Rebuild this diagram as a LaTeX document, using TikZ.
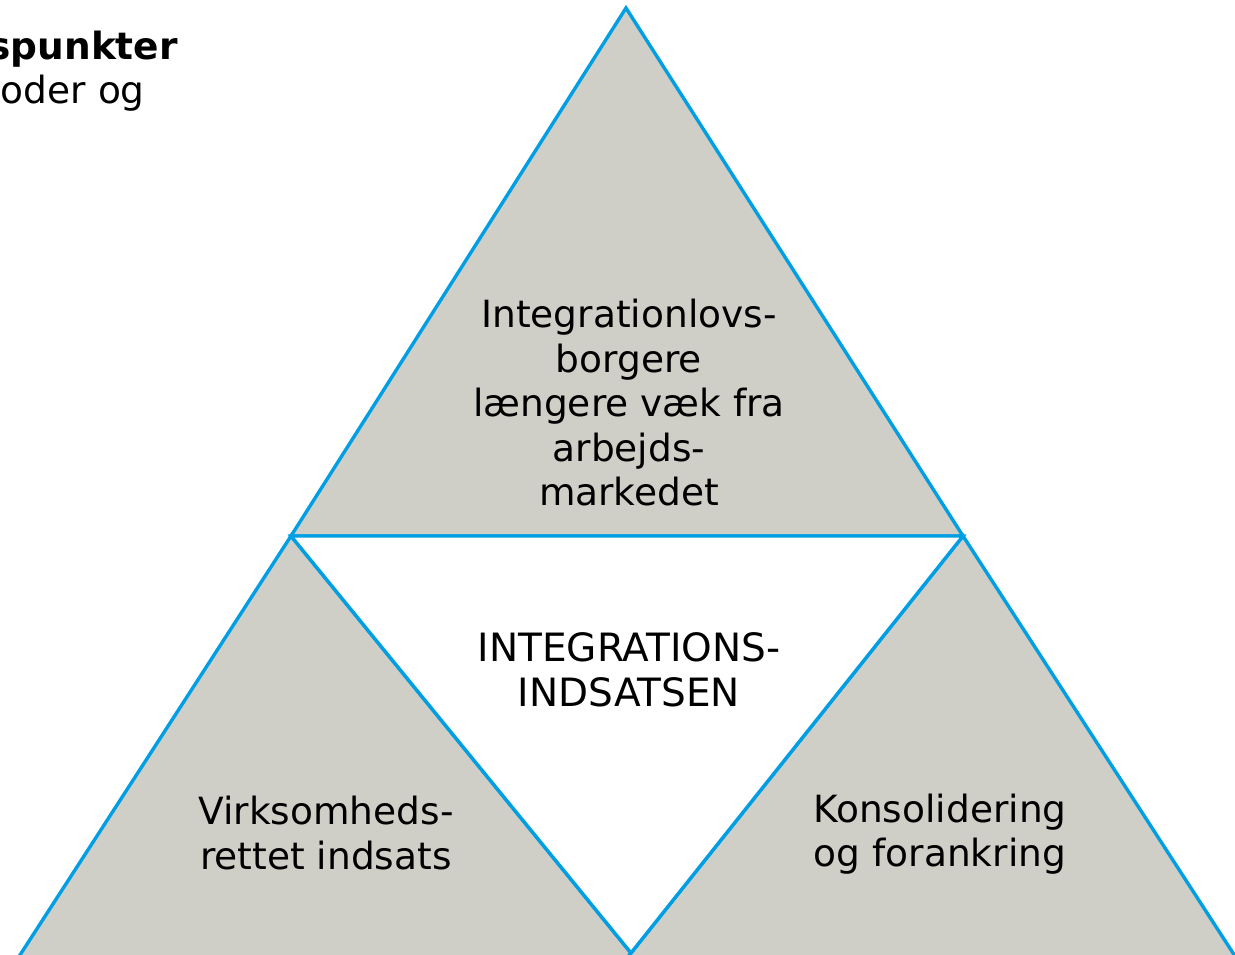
\documentclass[tikz,border=0pt]{standalone}
\usepackage{fontspec}
\setmainfont{DejaVu Sans}
\usetikzlibrary{calc}
\definecolor{edgeblue}{HTML}{009FE3}
\definecolor{panelgray}{HTML}{D0CFC7}
\begin{document}
\begin{tikzpicture}[x=1pt,y=-1pt,
  panel/.style={fill=panelgray,draw=edgeblue,line width=3.4pt,line join=miter},
  hole/.style={fill=white,draw=edgeblue,line width=3.4pt,line join=miter},
  label/.style={align=center,font=\fontsize{37.5}{44.5}\selectfont,inner sep=0pt},
  corner/.style={anchor=base east,font=\fontsize{37.5}{44.5}\selectfont,inner sep=0pt}]
\useasboundingbox (0,0) rectangle (1235,955);
\clip (0,0) rectangle (1235,955);
% corner points
\coordinate (apex) at (626,8);
\coordinate (ml) at (291,536);
\coordinate (mr) at (963,536);
\coordinate (bm) at (631,953);
\coordinate (bl) at ($(ml)!1.2!(20,955)$);
\coordinate (br) at ($(mr)!1.2!(1233,953)$);
% lower triangles
\draw[panel] (ml) -- (bl) -- ($(ml)!1.2!(bm)$) -- cycle;
\draw[panel] (mr) -- (br) -- ($(mr)!1.2!(bm)$) -- cycle;
% upper triangle
\draw[panel] (apex) -- (mr) -- (ml) -- cycle;
% inner inverted triangle
\draw[hole] (ml) -- (mr) -- (bm) -- cycle;
% texts
\node[label] (top) at (629,403) {Integrationlovs-\\borgere\\længere væk fra\\arbejds-\\markedet};
\node[label,font=\fontsize{39}{44.5}\selectfont] (mid) at (629,670) {INTEGRATIONS-\\INDSATSEN};
\node[label] (left) at (326,833) {Virksomheds-\\rettet indsats};
\node[label] (right) at (940,834) {Konsolidering\\og forankring};
\node[corner,font=\fontsize{37.5}{44.5}\selectfont\bfseries] (h1) at (178,60) {spunkter};
\node[corner] (h2) at (145,104) {toder og};
\end{tikzpicture}
\end{document}
